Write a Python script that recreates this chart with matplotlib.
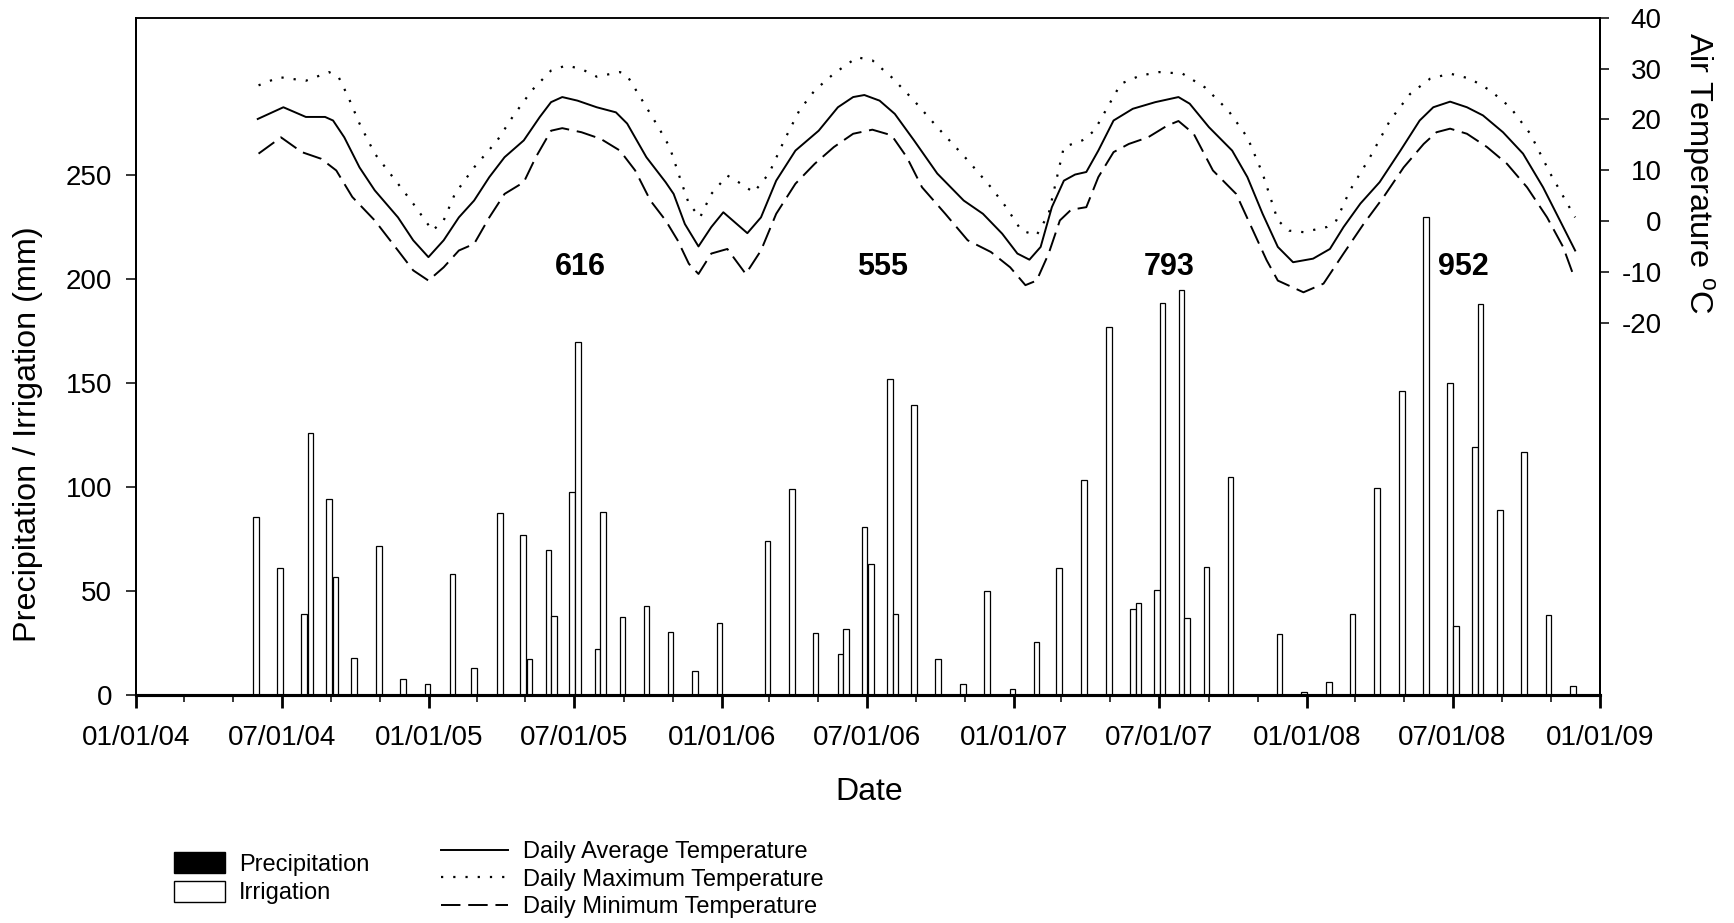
import numpy as np
import matplotlib
matplotlib.use('Agg')
import matplotlib.pyplot as plt
import matplotlib.dates as mdates
from matplotlib.patches import Patch

plt.rcParams['font.family'] = ['Liberation Sans', 'DejaVu Sans']
plt.rcParams['mathtext.fontset'] = 'custom'
plt.rcParams['mathtext.rm'] = 'Liberation Sans'
plt.rcParams['axes.unicode_minus'] = False

START = np.datetime64('2004-01-01')

# Water inputs: days after 01/01/04 and depth (mm)
bar_days = [150, 180, 210, 218, 241, 249, 272, 303, 333, 364,
            395, 422, 454, 483, 491, 515, 522, 544, 552, 576,
            583, 607, 637, 667, 698, 728, 788, 819, 848, 879,
            886, 909, 917, 941, 948, 971, 1001, 1032, 1062, 1094,
            1124, 1152, 1183, 1214, 1244, 1251, 1274, 1281, 1305, 1312,
            1336, 1366, 1427, 1458, 1489, 1518, 1549, 1580, 1610, 1640,
            1647, 1671, 1678, 1702, 1732, 1763, 1793]
bar_mm = [85.6, 60.9, 38.8, 126.1, 94.2, 56.9, 17.9, 71.5, 7.5, 5.4,
          58.2, 12.8, 87.4, 76.9, 17.1, 69.9, 37.8, 97.4, 169.6, 22.3,
          88.1, 37.3, 42.9, 30.1, 11.7, 34.8, 73.9, 98.9, 29.7, 19.6,
          31.6, 80.9, 63.1, 151.8, 38.8, 139.6, 17.3, 5.4, 50.1, 2.7,
          25.3, 60.9, 103.5, 176.8, 41.2, 44.2, 50.6, 188.5, 194.5, 36.9,
          61.7, 104.7, 29.2, 1.3, 6.1, 39.0, 99.5, 146.0, 230.0, 150.0,
          33.0, 119.0, 188.0, 89.0, 117.0, 38.5, 4.4]

# Daily average temperature (smoothed)
avg_days = [152, 184, 212, 236, 246, 260, 279, 298, 327, 346,
            365, 384, 403, 422, 441, 460, 484, 504, 518, 532,
            551, 575, 599, 613, 637, 661, 671, 685, 702, 718,
            733, 763, 780, 799, 823, 852, 876, 895, 909, 928,
            947, 971, 1000, 1033, 1057, 1081, 1100, 1115, 1129, 1143,
            1158, 1172, 1186, 1201, 1220, 1244, 1272, 1301, 1315, 1339,
            1368, 1387, 1406, 1425, 1444, 1469, 1490, 1507, 1528, 1552,
            1578, 1602, 1619, 1640, 1661, 1681, 1706, 1731, 1756, 1777,
            1796]
avg_temp = [20.1, 22.4, 20.5, 20.5, 19.8, 16.5, 10.6, 6.1, 0.8, -3.7,
            -7.0, -3.7, 0.8, 4.1, 8.7, 12.6, 15.9, 20.5, 23.4, 24.4,
            23.7, 22.4, 21.4, 19.2, 12.6, 7.7, 5.4, -0.5, -4.9, -1.1,
            1.8, -2.3, 0.8, 8.0, 13.9, 17.8, 22.4, 24.4, 24.8, 23.7,
            21.1, 15.9, 9.4, 4.1, 1.5, -2.4, -6.3, -7.5, -5.0, 2.8,
            8.0, 9.2, 9.7, 13.9, 19.8, 22.1, 23.4, 24.4, 23.1, 18.5,
            13.9, 8.7, 1.5, -5.0, -8.0, -7.3, -5.4, -1.1, 3.5, 7.7,
            13.9, 19.8, 22.4, 23.5, 22.4, 20.8, 17.5, 13.3, 6.7, 0.2,
            -5.7]

# Daily maximum temperature
max_days = [153, 179, 212, 241, 253, 265, 279, 298, 327, 346,
            370, 384, 398, 422, 451, 470, 494, 518, 537, 556,
            575, 604, 613, 632, 652, 666, 680, 690, 704, 718,
            738, 752, 771, 790, 809, 828, 847, 871, 900, 919,
            943, 971, 1000, 1038, 1067, 1086, 1105, 1124, 1139, 1158,
            1181, 1196, 1215, 1229, 1253, 1277, 1306, 1334, 1363, 1387,
            1406, 1425, 1439, 1457, 1486, 1498, 1515, 1540, 1565, 1590,
            1615, 1640, 1665, 1690, 1715, 1740, 1765, 1796]
max_temp = [26.7, 28.3, 27.6, 29.3, 28.3, 24.4, 19.2, 13.3, 7.4, 3.5,
            -1.8, 0.2, 5.4, 10.6, 15.9, 20.5, 25.7, 29.6, 30.6, 29.9,
            28.4, 29.3, 28.6, 23.7, 18.5, 14.6, 8.0, 3.5, 0.8, 5.4,
            9.0, 7.7, 5.7, 9.4, 15.9, 21.8, 25.7, 29.0, 32.2, 31.6,
            28.3, 23.7, 18.5, 12.0, 6.7, 2.8, -1.8, -2.7, 1.5, 14.6,
            15.9, 17.8, 23.1, 27.0, 28.6, 29.3, 29.0, 26.3, 21.8, 16.5,
            9.4, 0.2, -1.8, -2.1, -1.1, 0.2, 6.1, 12.6, 19.8, 25.0,
            28.0, 29.0, 28.0, 25.7, 22.4, 17.2, 9.4, 0.8]

# Daily minimum temperature
min_days = [153, 181, 207, 231, 250, 270, 298, 327, 346, 365,
            384, 403, 422, 441, 460, 484, 499, 518, 532, 556,
            580, 604, 623, 642, 661, 676, 690, 702, 718, 738,
            761, 780, 799, 823, 847, 871, 895, 919, 943, 962,
            981, 1010, 1038, 1067, 1091, 1110, 1124, 1139, 1153, 1167,
            1186, 1201, 1220, 1239, 1263, 1287, 1301, 1320, 1344, 1373,
            1392, 1411, 1425, 1457, 1482, 1507, 1532, 1557, 1582, 1607,
            1623, 1640, 1661, 1686, 1711, 1736, 1761, 1781, 1794]
min_temp = [13.3, 16.5, 13.6, 12.3, 10.0, 4.8, 0.2, -5.7, -9.6, -11.6,
            -9.0, -5.7, -4.4, 0.8, 5.4, 7.7, 12.6, 17.8, 18.3, 17.5,
            16.2, 13.9, 10.0, 4.1, 0.2, -3.7, -8.3, -10.3, -6.3, -5.4,
            -10.3, -5.7, 1.5, 7.4, 11.3, 14.6, 17.2, 18.0, 16.9, 12.6,
            6.7, 1.5, -3.7, -6.0, -9.0, -12.5, -11.6, -6.3, 0.2, 2.3,
            2.8, 8.7, 13.6, 15.2, 16.5, 18.8, 19.7, 17.2, 10.0, 5.4,
            -1.1, -7.6, -11.6, -13.9, -12.2, -6.3, -0.5, 4.8, 10.6, 15.2,
            17.5, 18.2, 17.2, 14.6, 11.3, 6.7, 0.8, -5.0, -10.6]

# Annual totals written on the chart
total_days = [555, 932, 1289, 1657]
total_text = ['616', '555', '793', '952']


def to_num(days):
    return mdates.date2num(START) + np.asarray(days, dtype=float)


fig = plt.figure(figsize=(17.34, 9.23), dpi=100)
ax = fig.add_axes([0.0784, 0.2470, 0.8443, 0.7340])
ax2 = ax.twinx()

ax.bar(to_num(bar_days), bar_mm, width=7, facecolor='white',
       edgecolor='black', linewidth=0.9)
for d, t in zip(total_days, total_text):
    ax.text(to_num(d), 206, t, ha='center', va='center', fontsize=22,
            fontweight='bold')

l_avg, = ax2.plot(to_num(avg_days), avg_temp, color='black', lw=1.4)
l_max, = ax2.plot(to_num(max_days), max_temp, color='black', lw=1.6,
                  dashes=(1.0, 4.5))
l_min, = ax2.plot(to_num(min_days), min_temp, color='black', lw=1.4,
                  dashes=(10, 4))

ax.set_xlim(to_num(0), to_num(1827))
ax.set_ylim(0, 325.7)
ax2.set_ylim(-92.9, 40)
ax.set_yticks([0, 50, 100, 150, 200, 250])
ax2.set_yticks([-20, -10, 0, 10, 20, 30, 40])

ax.xaxis.set_major_locator(mdates.MonthLocator(bymonth=[1, 7]))
ax.xaxis.set_minor_locator(mdates.MonthLocator(bymonth=[3, 5, 9, 11]))
ax.xaxis.set_major_formatter(mdates.DateFormatter('%m/%d/%y'))

ax.tick_params(axis='x', which='major', length=9.4, width=2, labelsize=20, pad=12)
ax.tick_params(axis='x', which='minor', length=5, width=1.1)
ax.tick_params(axis='y', length=7.2, width=1.1, labelsize=20, pad=10)
ax2.tick_params(axis='y', length=6.5, width=1.1, labelsize=20, pad=38)
for lab in ax2.get_yticklabels():
    lab.set_horizontalalignment('right')

for a in (ax, ax2):
    a.spines['bottom'].set_linewidth(2.2)
    a.spines['left'].set_linewidth(1.4)
    a.spines['right'].set_linewidth(1.4)
    a.spines['top'].set_linewidth(1.1)

fig.text(28 / 1734, 0.5298, 'Precipitation / Irrigation (mm)', rotation=90,
         ha='center', va='center', fontsize=23.3)
fig.text(1698 / 1734, 1 - 172.5 / 923, r'Air Temperature $^{\rm o}$C',
         rotation=270, ha='center', va='center', fontsize=23.4)
fig.text(0.5012, 0.1419, 'Date', ha='center', va='center', fontsize=23)

fig.legend(handles=[Patch(facecolor='black', edgecolor='black'),
                    Patch(facecolor='white', edgecolor='black')],
           labels=['Precipitation', 'Irrigation'], loc='upper left',
           bbox_to_anchor=(174 / 1734, 1 - 852 / 923), frameon=False,
           fontsize=17, handlelength=2.16, handleheight=1.0,
           handletextpad=0.59, labelspacing=0.22, borderpad=0,
           borderaxespad=0)
fig.legend(handles=[l_avg, l_max, l_min],
           labels=['Daily Average Temperature', 'Daily Maximum Temperature',
                   'Daily Minimum Temperature'],
           loc='upper left', bbox_to_anchor=(441 / 1734, 1 - 841 / 923),
           frameon=False, fontsize=17, handlelength=2.84, handletextpad=0.64,
           labelspacing=0.24, borderpad=0, borderaxespad=0)

fig.savefig('out.png', dpi=100)
